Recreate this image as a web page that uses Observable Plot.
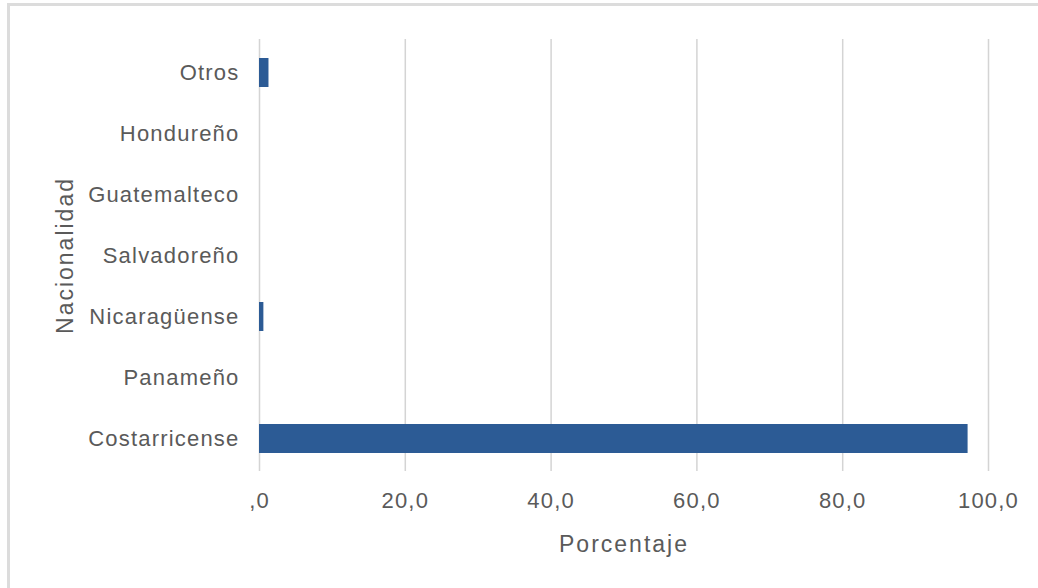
<!DOCTYPE html>
<html>
<head>
<meta charset="utf-8">
<script src="https://cdn.jsdelivr.net/npm/d3@7"></script>
<script src="https://cdn.jsdelivr.net/npm/@observablehq/plot@0.6"></script>
<style>
  html, body { margin: 0; padding: 0; background: #fff; }
  #wrap { position: relative; width: 1038px; height: 588px; overflow: hidden; }
  #frame { position: absolute; left: 7px; top: 3px; width: 1040px; height: 600px;
           border-left: 3px solid #dcdcdc; border-top: 3px solid #dcdcdc; }
  #chart { position: absolute; left: 0; top: 0; }
  #chart svg text { letter-spacing: 1.2px; }
  #chart svg text.title { letter-spacing: 2px; }
</style>
</head>
<body>
<div id="wrap"><div id="frame"></div><div id="chart"></div></div>
<script>
const categories = ["Costarricense", "Panameño", "Nicaragüense", "Salvadoreño", "Guatemalteco", "Hondureño", "Otros"];
const values = [97.2, 0.0, 0.6, 0.0, 0.0, 0.0, 1.3];
const xTicks = [0, 20, 40, 60, 80, 100];

const data = categories.map((c, i) => ({nacionalidad: c, porcentaje: values[i]}));
const fmt = d => d === 0 ? ",0" : d.toFixed(1).replace(".", ",");

const chart = Plot.plot({
  width: 1038,
  height: 588,
  marginLeft: 259,
  marginRight: 50,
  marginTop: 39,
  marginBottom: 117,
  style: {fontFamily: "'Liberation Sans', Arial, sans-serif", fontSize: "22px", color: "#5a5a5a", background: "transparent"},
  x: {domain: [0, 100], ticks: xTicks, tickFormat: fmt, label: null},
  y: {domain: categories.slice().reverse(), paddingInner: 0.53, paddingOuter: 0.265, label: null},
  marks: [
    Plot.gridX(xTicks, {stroke: "#d4d4d4", strokeOpacity: 1, strokeWidth: 1.5}),
    Plot.barX(data, {x: "porcentaje", y: "nacionalidad", fill: "#2c5b95"}),
    Plot.axisX({ticks: xTicks, tickFormat: fmt, tickSize: 0, tickPadding: 21, fill: "#5a5a5a", label: null}),
    Plot.axisY({tickSize: 0, tickPadding: 20, fill: "#5a5a5a", label: null}),
    Plot.text(["Porcentaje"], {frameAnchor: "bottom", textAnchor: "middle", dy: 80, fill: "#5a5a5a", fontSize: 23}),
    Plot.text(["Nacionalidad"], {frameAnchor: "left", textAnchor: "middle", dx: -194, rotate: -90, fill: "#5a5a5a", fontSize: 23})
  ]
});
chart.querySelectorAll("g[aria-label='text'] text").forEach(t => t.classList.add("title"));
document.getElementById("chart").appendChild(chart);
</script>
</body>
</html>
